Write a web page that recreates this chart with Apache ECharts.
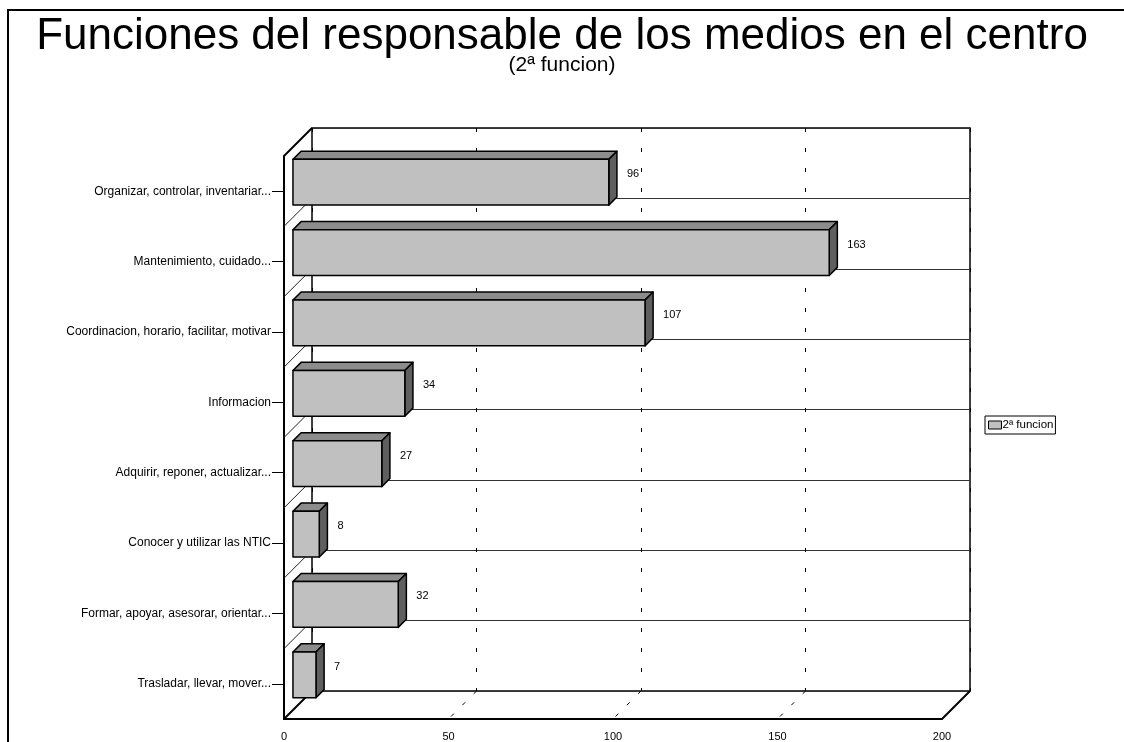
<!DOCTYPE html>
<html>
<head>
<meta charset="utf-8">
<script src="https://cdn.jsdelivr.net/npm/echarts@6/dist/echarts.min.js"></script>
<style>
html,body{margin:0;padding:0;background:#fff;}
#chart{width:1124px;height:742px;}
</style>
</head>
<body>
<div id="chart"></div>
<script>
// ---- data ----
var titleText = 'Funciones del responsable de los medios en el centro';
var subTitleText = '(2ª funcion)';
var seriesName = '2ª funcion';
var categories = [
  'Organizar, controlar, inventariar...',
  'Mantenimiento, cuidado...',
  'Coordinacion, horario, facilitar, motivar',
  'Informacion',
  'Adquirir, reponer, actualizar...',
  'Conocer y utilizar las NTIC',
  'Formar, apoyar, asesorar, orientar...',
  'Trasladar, llevar, mover...'
];
var values = [96, 163, 107, 34, 27, 8, 32, 7];
var xMin = 0, xMax = 200, xInterval = 50;
var gridValues = [50, 100, 150];

// ---- styling ----
var FONT = "'Liberation Sans', Arial, sans-serif";
var DEPTH = [-28, 28];          // back wall -> front plane offset (px)
var F_FRONT = 0.68, F_BACK = 0.39; // depth fractions of the bar faces
var BAR_FRAC = 0.65;            // bar thickness as fraction of band

var chart = echarts.init(document.getElementById('chart'));

function shift(p, f) { return [p[0] + DEPTH[0] * f, p[1] + DEPTH[1] * f]; }

function renderBar(params, api) {
  var v = api.value(0), c = api.value(1);
  var p0 = api.coord([0, c]);
  var p1 = api.coord([v, c]);
  var band = api.size([0, 1])[1];
  var h = band * BAR_FRAC / 2;
  var tl = [p0[0], p0[1] - h], tr = [p1[0], p1[1] - h];
  var bl = [p0[0], p0[1] + h], br = [p1[0], p1[1] + h];
  var ftl = shift(tl, F_FRONT), ftr = shift(tr, F_FRONT), fbl = shift(bl, F_FRONT), fbr = shift(br, F_FRONT);
  var btl = shift(tl, F_BACK), btr = shift(tr, F_BACK), bbr = shift(br, F_BACK);
  var stroke = {stroke: '#000', lineWidth: 1.5, lineJoin: 'round'};
  var backCenter = shift(p1, F_BACK);
  return {
    type: 'group',
    children: [
      {type: 'polygon', shape: {points: [ftl, ftr, btr, btl]},
       style: Object.assign({fill: '#8c8c8c'}, stroke)},
      {type: 'polygon', shape: {points: [ftr, btr, bbr, fbr]},
       style: Object.assign({fill: '#5f5f5f'}, stroke)},
      {type: 'polygon', shape: {points: [ftl, ftr, fbr, fbl]},
       style: Object.assign({fill: '#c0c0c0'}, stroke)},
      {type: 'text', x: backCenter[0] + 10, y: backCenter[1],
       style: {text: String(v), fill: '#000', font: '11px ' + FONT, align: 'left', verticalAlign: 'middle'}}
    ]
  };
}

function renderFrame(params, api) {
  if (params.dataIndex !== 0) return null;
  var cs = params.coordSys;
  var L = cs.x, T = cs.y, R = cs.x + cs.width, B = cs.y + cs.height;
  var band = api.size([0, 1])[1];
  var children = [];
  function line(a, b, w, color, dash) {
    children.push({type: 'line', shape: {x1: a[0], y1: a[1], x2: b[0], y2: b[1]},
      style: {stroke: color, lineWidth: w, lineDash: dash || null}});
  }
  // left wall top edge
  line([L, T], shift([L, T], 1), 2, '#000');
  // left wall category boundaries
  for (var k = 0; k < categories.length - 1; k++) {
    var cy = api.coord([0, k])[1] + band / 2;
    line([L, cy], shift([L, cy], 1), 1, '#222');
  }
  // floor edges
  line([L, B], shift([L, B], 1), 2, '#000');
  line([R, B], shift([R, B], 1), 2, '#000');
  // floor gridlines
  gridValues.forEach(function (gv) {
    var x = api.coord([gv, 0])[0];
    line([x, B], shift([x, B], 1), 1, '#000', [4, 12]);
  });
  return {type: 'group', children: children};
}

var option = {
  animation: false,
  backgroundColor: '#fff',
  textStyle: {fontFamily: FONT},
  title: [
    {
      text: titleText,
      left: 'center',
      top: 10,
      textStyle: {fontFamily: FONT, fontSize: 44, fontWeight: 'normal', color: '#000'}
    },
    {
      text: subTitleText,
      left: 'center',
      top: 50,
      textStyle: {fontFamily: FONT, fontSize: 21, fontWeight: 'normal', color: '#000'}
    }
  ],
  legend: {
    data: [{name: seriesName, icon: 'rect', itemStyle: {color: '#c0c0c0', borderColor: '#000', borderWidth: 1}}],
    left: 985, top: 416,
    orient: 'vertical',
    itemWidth: 13, itemHeight: 8, itemGap: 2,
    padding: [3, 2, 3, 3],
    borderColor: '#000', borderWidth: 1,
    textStyle: {fontFamily: FONT, fontSize: 11.5, color: '#000', padding: [0, 0, 0, -4]}
  },
  graphic: [{
    type: 'rect', shape: {x: 8, y: 10, width: 1300, height: 900},
    style: {fill: 'none', stroke: '#000', lineWidth: 2}, silent: true, z: 100
  }],
  grid: [
    {left: 312, top: 128, right: 154, bottom: 51, show: true, borderColor: '#000', borderWidth: 1.5, backgroundColor: 'transparent'},
    {left: 284, top: 156, right: 182, bottom: 23, show: false}
  ],
  xAxis: [
    {type: 'value', gridIndex: 0, min: xMin, max: xMax, interval: xInterval,
     axisLine: {show: false}, axisTick: {show: false}, axisLabel: {show: false},
     splitLine: {show: true, lineStyle: {color: '#000', width: 1, type: [4, 16]}}},
    {type: 'value', gridIndex: 1, min: xMin, max: xMax, interval: xInterval,
     axisLine: {show: true, onZero: false, lineStyle: {color: '#000', width: 2}},
     axisTick: {show: false},
     axisLabel: {show: true, margin: 12, color: '#000', fontSize: 11, fontFamily: FONT},
     splitLine: {show: false}}
  ],
  yAxis: [
    {type: 'category', gridIndex: 0, data: categories, inverse: true,
     axisLine: {show: false}, axisTick: {show: false}, axisLabel: {show: false},
     splitLine: {show: true, lineStyle: {color: '#333', width: 1}}},
    {type: 'category', gridIndex: 1, data: categories, inverse: true,
     axisLine: {show: true, onZero: false, lineStyle: {color: '#000', width: 2}},
     axisTick: {show: true, alignWithLabel: true, length: 12, lineStyle: {color: '#000', width: 1}},
     axisLabel: {show: true, margin: 13, color: '#000', fontSize: 12, fontFamily: FONT, padding: [6, 0, 0, 0]},
     splitLine: {show: false}}
  ],
  series: [
    {
      name: 'frame', type: 'custom', xAxisIndex: 0, yAxisIndex: 0, z: 1, silent: true,
      renderItem: renderFrame,
      data: [[0, 0]],
      encode: {x: 0, y: 1}
    },
    {
      name: seriesName, type: 'custom', xAxisIndex: 0, yAxisIndex: 0, z: 3,
      itemStyle: {color: '#c0c0c0', borderColor: '#000', borderWidth: 1},
      renderItem: renderBar,
      data: values.map(function (v, i) { return [v, i]; }),
      encode: {x: 0, y: 1}
    }
  ]
};
chart.setOption(option);
</script>
</body>
</html>
